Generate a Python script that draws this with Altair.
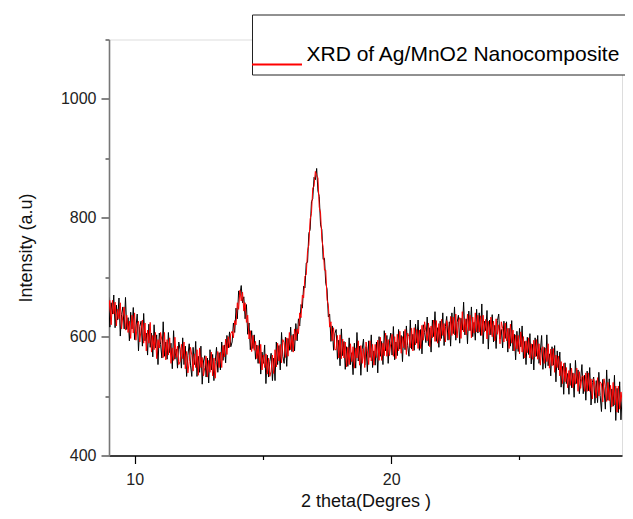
import altair as alt
import numpy as np
import pandas as pd

# 2-theta grid of the scan (degrees), calibrated on the two peak positions
theta_start = 8.73
theta_step = 0.0507

# Intensity, black trace
black_intensity = [
    680, 644, 690, 631, 654, 666, 616, 657, 638, 670,
    615, 653, 628, 665, 601, 637, 650, 613, 666, 612,
    632, 593, 641, 613, 649, 595, 614, 638, 576, 617,
    626, 584, 639, 593, 606, 569, 621, 582, 606, 566,
    620, 581, 603, 553, 606, 587, 564, 625, 567, 591,
    562, 607, 573, 589, 546, 610, 562, 579, 547, 591,
    578, 547, 598, 553, 584, 533, 568, 588, 552, 533,
    582, 553, 592, 533, 567, 540, 584, 520, 559, 568,
    532, 564, 522, 578, 544, 570, 526, 558, 582, 540,
    573, 544, 591, 560, 586, 556, 602, 581, 608, 583,
    591, 623, 607, 648, 630, 677, 670, 686, 657, 667,
    630, 654, 604, 623, 578, 610, 580, 603, 562, 586,
    555, 594, 537, 574, 555, 586, 521, 569, 532, 558,
    572, 526, 564, 526, 591, 553, 585, 544, 607, 567,
    555, 599, 550, 597, 577, 616, 575, 604, 576, 622,
    593, 630, 618, 654, 648, 685, 682, 724, 725, 774,
    780, 827, 832, 868, 864, 883, 845, 836, 788, 780,
    730, 732, 690, 680, 633, 638, 592, 618, 577, 605,
    612, 562, 594, 551, 613, 568, 592, 545, 583, 550,
    598, 553, 573, 536, 589, 547, 607, 559, 584, 535,
    578, 596, 552, 583, 541, 593, 565, 603, 548, 576,
    552, 591, 539, 600, 567, 592, 553, 610, 576, 602,
    555, 593, 606, 569, 617, 561, 591, 568, 612, 579,
    602, 558, 609, 578, 618, 585, 567, 628, 579, 604,
    577, 621, 589, 628, 577, 612, 571, 620, 607, 590,
    633, 585, 615, 574, 628, 600, 642, 592, 615, 582,
    626, 597, 640, 585, 617, 634, 594, 625, 584, 640,
    605, 650, 594, 624, 636, 589, 631, 611, 658, 603,
    630, 588, 643, 610, 650, 600, 624, 594, 646, 606,
    640, 602, 655, 588, 626, 610, 644, 579, 628, 603,
    637, 591, 619, 580, 627, 638, 596, 612, 581, 626,
    597, 625, 574, 614, 584, 627, 576, 604, 561, 609,
    575, 614, 583, 618, 563, 592, 553, 599, 570, 605,
    554, 587, 544, 598, 567, 602, 555, 576, 602, 545,
    582, 547, 603, 551, 571, 534, 583, 552, 585, 524,
    576, 544, 574, 515, 550, 503, 556, 521, 538, 503,
    555, 514, 539, 498, 560, 521, 544, 504, 529, 553,
    504, 535, 493, 542, 509, 548, 485, 523, 532, 488,
    526, 489, 540, 501, 474, 528, 512, 478, 544, 493,
    529, 473, 512, 483, 535, 459, 513, 472, 524, 460,
    505,
]

# Intensity, red trace (the legend series)
red_intensity = [
    643, 674, 657, 629, 677, 640, 661, 620, 661, 638,
    658, 618, 646, 630, 657, 613, 636, 650, 611, 636,
    607, 626, 597, 636, 606, 640, 594, 620, 626, 591,
    613, 628, 589, 623, 576, 611, 589, 624, 574, 602,
    578, 607, 563, 595, 581, 607, 594, 565, 607, 561,
    595, 569, 598, 555, 581, 560, 599, 565, 584, 553,
    558, 587, 563, 591, 546, 575, 539, 558, 582, 569,
    542, 571, 548, 578, 535, 581, 548, 565, 534, 548,
    567, 532, 560, 540, 574, 534, 564, 530, 557, 575,
    548, 574, 548, 585, 566, 596, 570, 600, 582, 605,
    609, 598, 627, 620, 657, 646, 678, 660, 675, 643,
    657, 624, 636, 596, 610, 575, 602, 577, 592, 563,
    585, 555, 587, 544, 569, 548, 571, 537, 564, 533,
    542, 569, 538, 578, 549, 589, 559, 587, 556, 595,
    590, 565, 598, 567, 607, 578, 602, 574, 613, 594,
    613, 605, 640, 632, 670, 665, 702, 704, 745, 754,
    798, 807, 850, 853, 878, 871, 867, 818, 808, 764,
    750, 712, 712, 662, 653, 616, 625, 593, 615, 578,
    578, 602, 564, 603, 563, 596, 564, 591, 549, 582,
    553, 588, 558, 583, 547, 581, 564, 593, 552, 585,
    555, 580, 548, 591, 576, 553, 593, 559, 587, 552,
    587, 565, 594, 560, 599, 560, 589, 568, 606, 567,
    595, 568, 589, 604, 567, 600, 563, 604, 576, 609,
    572, 600, 581, 612, 570, 606, 600, 581, 614, 576,
    615, 586, 612, 580, 611, 580, 619, 594, 625, 609,
    593, 623, 583, 618, 598, 628, 592, 627, 589, 622,
    593, 629, 602, 622, 591, 627, 617, 595, 634, 602,
    633, 603, 638, 598, 626, 632, 597, 642, 608, 630,
    603, 638, 610, 636, 598, 633, 606, 640, 608, 636,
    608, 635, 602, 636, 608, 629, 596, 626, 603, 633,
    600, 626, 593, 630, 604, 620, 588, 625, 614, 591,
    623, 593, 614, 580, 621, 589, 611, 576, 603, 579,
    602, 571, 608, 574, 600, 564, 593, 573, 598, 564,
    588, 562, 594, 566, 595, 562, 588, 552, 580, 583,
    555, 581, 558, 588, 547, 579, 551, 580, 540, 569,
    548, 567, 534, 558, 521, 555, 524, 548, 514, 543,
    518, 547, 514, 538, 520, 547, 508, 541, 513, 533,
    534, 508, 539, 508, 539, 508, 529, 495, 529, 518,
    497, 531, 500, 524, 521, 490, 529, 516, 491, 523,
    492, 518, 482, 523, 485, 517, 473, 517, 478, 507,
    490,
]

series_name = "XRD of Ag/MnO2 Nanocomposite"
x_ticks = [10, 15, 20, 25]
y_ticks = [400, 500, 600, 700, 800, 900, 1000, 1100]

n = min(len(black_intensity), len(red_intensity))
theta = np.round(theta_start + theta_step * np.arange(n), 3)

df_black = pd.DataFrame({"theta": theta, "intensity": black_intensity[:n]})
df_red = pd.DataFrame({"theta": theta, "intensity": red_intensity[:n], "series": series_name})

FONT = "Liberation Sans"

x_scale = alt.Scale(domain=[9, 29], nice=False, zero=False)
y_scale = alt.Scale(domain=[400, 1100], nice=False, zero=False)

x_axis = alt.Axis(
    title="2 theta(Degres )",
    values=x_ticks,
    labelExpr="datum.value % 10 == 0 ? datum.label : ''",
    tickSize={"condition": {"test": "datum.value % 10 == 0", "value": 8}, "value": 4},
    grid=False,
    domainColor="black",
    domainWidth=1.6,
    tickColor="black",
    tickWidth=1.2,
    labelFont=FONT,
    labelFontSize=16,
    labelColor="#222222",
    labelPadding=8,
    titleFont=FONT,
    titleFontSize=18,
    titleFontWeight="normal",
    titleColor="#111111",
    titlePadding=5,
)

y_axis = alt.Axis(
    title="Intensity (a.u)",
    values=y_ticks,
    format="d",
    labelExpr="datum.value % 200 == 0 ? datum.label : ''",
    tickSize={"condition": {"test": "datum.value % 200 == 0", "value": 8}, "value": 4},
    grid=False,
    domainColor="#777777",
    domainWidth=1.6,
    tickColor="#333333",
    tickWidth=1.2,
    labelFont=FONT,
    labelFontSize=16,
    labelColor="#222222",
    labelPadding=5,
    titleFont=FONT,
    titleFontSize=18,
    titleFontWeight="normal",
    titleColor="#111111",
    titlePadding=25,
)

black = alt.Chart(df_black).mark_line(color="black", strokeWidth=1, clip=True).encode(
    x=alt.X("theta:Q", scale=x_scale, axis=x_axis),
    y=alt.Y("intensity:Q", scale=y_scale, axis=y_axis),
)

red = alt.Chart(df_red).mark_line(strokeWidth=1, clip=True).encode(
    x=alt.X("theta:Q", scale=x_scale),
    y=alt.Y("intensity:Q", scale=y_scale),
    color=alt.Color(
        "series:N",
        scale=alt.Scale(domain=[series_name], range=["#ff0000"]),
        legend=alt.Legend(
            title=" ",
            titleFontSize=16,
            titlePadding=8,
            orient="none",
            legendX=143,
            legendY=-25,
            direction="vertical",
            symbolType="M-2.63,1H2.63",
            symbolSize=361,
            symbolStrokeWidth=2,
            symbolOffset=8.5,
            labelOffset=19,
            labelFont=FONT,
            labelFontSize=21,
            labelColor="black",
            labelBaseline="middle",
            labelLimit=600,
            padding=6,
            strokeColor="#222222",
            fillColor="white",
        ),
    ),
)

chart = (
    alt.layer(black, red)
    .properties(
        width=513,
        height=416,
        autosize=alt.AutoSizeParams(type="none"),
        padding={"left": 101, "top": 31.5, "right": 3, "bottom": 55},
    )
    .configure_view(stroke=None)
    .configure(background="white")
)

chart.save("out.html", embed_options={"renderer": "svg", "actions": False})
